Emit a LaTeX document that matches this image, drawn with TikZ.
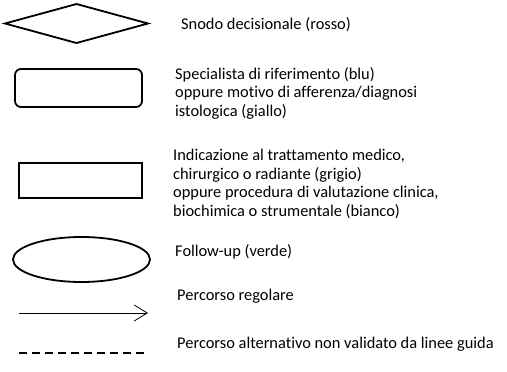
\documentclass[tikz,border=0pt]{standalone}
\usepackage{fontspec}
\setmainfont[Ligatures=NoCommon]{Carlito}
\usetikzlibrary{shapes.geometric,arrows.meta}

\tikzset{
  legshape/.style={draw=black,line width=1.8pt,fill=white,inner sep=0pt,outer sep=0pt},
  legtext/.style={anchor=west,align=left,inner sep=0pt,font=\fontsize{16.4}{18.5}\selectfont}
}

\begin{document}
\begin{tikzpicture}[x=1pt,y=-1pt]
\useasboundingbox (0,0) rectangle (507,372);
% shapes
\node[legshape,diamond,minimum width=143pt,minimum height=39pt] (snodo) at (76.5,23.5) {};
\node[legshape,rectangle,rounded corners=6pt,minimum width=127pt,minimum height=38pt] (spec) at (78.5,88) {};
\node[legshape,rectangle,minimum width=123pt,minimum height=35pt] (proc) at (80.5,180.5) {};
\node[legshape,ellipse,minimum width=137pt,minimum height=45pt] (follow) at (81.5,259.5) {};
\coordinate (regA) at (19,313);
\coordinate (regB) at (148,313);
\draw[line width=0.8pt,-{Straight Barb[length=13pt,width=16pt,line width=0.8pt]}] (regA) -- (regB);
\coordinate (altA) at (19,353);
\coordinate (altB) at (145,353);
\draw[line width=2pt,dash pattern=on 8pt off 5pt] (altA) -- (altB);
% texts
\node[legtext] (tsnodo) at (181,24.5) {Snodo decisionale (rosso)};
\node[legtext] (tspec) at (175,93) {Specialista di riferimento (blu)\\oppure motivo di afferenza/diagnosi\\istologica (giallo)};
\node[legtext] (tproc) at (173,184) {Indicazione al trattamento medico,\\chirurgico o radiante (grigio)\\oppure procedura di valutazione clinica,\\biochimica o strumentale (bianco)};
\node[legtext] (tfollow) at (175,251.5) {Follow-up (verde)};
\node[legtext] (treg) at (177,296.5) {Percorso regolare};
\node[legtext] (talt) at (177,344.5) {Percorso alternativo non validato da linee guida};
\end{tikzpicture}
\end{document}
